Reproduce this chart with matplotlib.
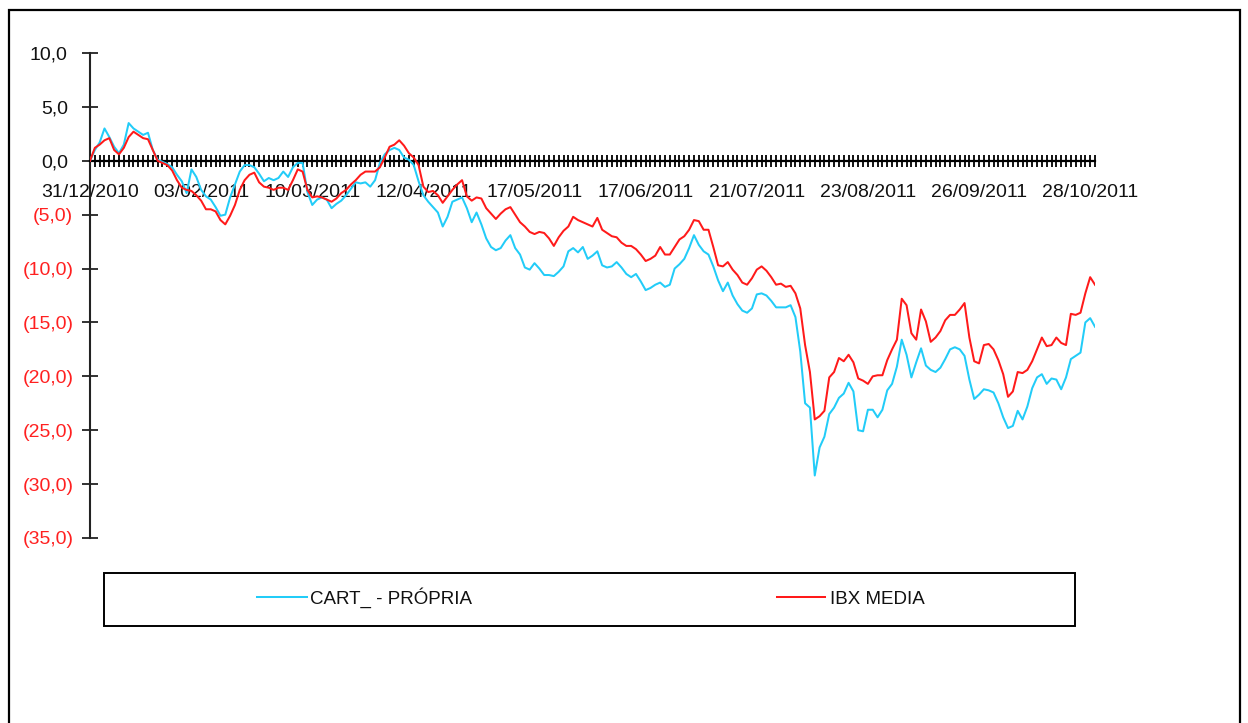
import matplotlib
matplotlib.use("Agg")
import matplotlib.pyplot as plt
from matplotlib.patches import Rectangle
from matplotlib.lines import Line2D
from matplotlib.transforms import ScaledTranslation

# ---------------- data ----------------
cart_propria = [
    0.0, 1.0, 1.7, 3.0, 2.2, 1.3, 0.7, 1.5, 3.5, 3.0,
    2.7, 2.4, 2.6, 1.0, 0.1, -0.1, -0.3, -0.6, -1.3, -1.9,
    -3.0, -0.8, -1.5, -2.7, -3.3, -3.6, -4.3, -5.1, -5.0, -3.4,
    -2.2, -1.0, -0.4, -0.4, -0.6, -1.2, -1.9, -1.6, -1.8, -1.6,
    -1.0, -1.5, -0.6, -0.2, -0.2, -2.9, -4.1, -3.6, -3.4, -3.6,
    -4.4, -4.0, -3.7, -3.2, -2.6, -2.0, -2.1, -2.0, -2.4, -1.8,
    -0.2, 0.6, 1.0, 1.2, 1.0, 0.3, 0.1, -0.4, -1.9, -3.2,
    -3.8, -4.3, -4.8, -6.1, -5.2, -3.8, -3.6, -3.4, -4.4, -5.7,
    -4.8, -5.9, -7.2, -8.0, -8.3, -8.1, -7.4, -6.9, -8.1, -8.7,
    -9.9, -10.1, -9.5, -10.0, -10.6, -10.6, -10.7, -10.3, -9.8, -8.4,
    -8.1, -8.5, -8.0, -9.1, -8.8, -8.4, -9.7, -9.9, -9.8, -9.4,
    -9.9, -10.5, -10.8, -10.5, -11.2, -12.0, -11.8, -11.5, -11.3, -11.7,
    -11.5, -10.0, -9.6, -9.1, -8.1, -6.9, -7.8, -8.4, -8.7, -9.8,
    -11.1, -12.1, -11.3, -12.5, -13.3, -13.9, -14.1, -13.7, -12.4, -12.3,
    -12.5, -13.0, -13.6, -13.6, -13.6, -13.4, -14.5, -17.7, -22.5, -22.9,
    -29.2, -26.6, -25.6, -23.5, -22.9, -22.0, -21.6, -20.6, -21.4, -25.0,
    -25.1, -23.1, -23.1, -23.8, -23.1, -21.3, -20.7, -19.1, -16.6, -18.0,
    -20.1, -18.7, -17.4, -19.0, -19.4, -19.6, -19.2, -18.4, -17.5, -17.3,
    -17.5, -18.1, -20.3, -22.1, -21.7, -21.2, -21.3, -21.5, -22.5, -23.8,
    -24.8, -24.6, -23.2, -24.0, -22.8, -21.1, -20.1, -19.8, -20.7, -20.2,
    -20.3, -21.2, -20.1, -18.4, -18.1, -17.8, -15.0, -14.6, -15.4,
]

ibx_media = [
    0.0, 1.2, 1.5, 1.9, 2.1, 1.0, 0.6, 1.2, 2.2, 2.7,
    2.4, 2.1, 2.0, 1.0, 0.0, -0.2, -0.4, -0.9, -1.8, -2.5,
    -2.7, -2.8, -3.2, -3.7, -4.5, -4.5, -4.7, -5.5, -5.9, -5.1,
    -4.1, -2.7, -1.8, -1.3, -1.1, -2.0, -2.4, -2.5, -2.7, -2.5,
    -2.5, -2.7, -1.8, -0.8, -1.0, -2.7, -3.4, -3.3, -3.4, -3.6,
    -3.8, -3.5, -3.0, -2.7, -2.2, -1.8, -1.3, -1.0, -1.0, -1.0,
    -0.6, 0.3, 1.3, 1.5, 1.9, 1.4, 0.7, 0.3, -0.4, -2.4,
    -2.9, -2.8, -3.2, -3.9, -3.3, -2.7, -2.2, -1.8, -3.3, -3.7,
    -3.4, -3.5, -4.4, -4.9, -5.4, -4.9, -4.5, -4.3, -5.0, -5.7,
    -6.1, -6.6, -6.8, -6.6, -6.7, -7.2, -7.9, -7.1, -6.5, -6.1,
    -5.2, -5.5, -5.7, -5.9, -6.1, -5.3, -6.4, -6.7, -7.0, -7.1,
    -7.6, -7.9, -7.9, -8.2, -8.7, -9.3, -9.1, -8.8, -8.0, -8.7,
    -8.7, -8.0, -7.3, -7.0, -6.4, -5.5, -5.6, -6.4, -6.4, -8.0,
    -9.7, -9.8, -9.4, -10.1, -10.6, -11.3, -11.5, -10.9, -10.1, -9.8,
    -10.2, -10.8, -11.5, -11.4, -11.7, -11.6, -12.3, -13.7, -17.1, -19.6,
    -24.0, -23.7, -23.2, -20.1, -19.6, -18.3, -18.6, -18.0, -18.7, -20.2,
    -20.4, -20.7, -20.0, -19.9, -19.9, -18.5, -17.5, -16.6, -12.8, -13.4,
    -16.0, -16.6, -13.8, -14.9, -16.8, -16.4, -15.8, -14.8, -14.3, -14.3,
    -13.8, -13.2, -16.4, -18.6, -18.8, -17.1, -17.0, -17.5, -18.5, -19.8,
    -21.9, -21.4, -19.6, -19.7, -19.4, -18.6, -17.5, -16.4, -17.2, -17.1,
    -16.4, -16.9, -17.1, -14.2, -14.3, -14.1, -12.3, -10.8, -11.5,
]

date_labels = ["31/12/2010", "03/02/2011", "10/03/2011", "12/04/2011", "17/05/2011",
               "17/06/2011", "21/07/2011", "23/08/2011", "26/09/2011", "28/10/2011"]
label_step = 23
y_ticks = [10, 5, 0, -5, -10, -15, -20, -25, -30, -35]
series_names = ["CART_ - PRÓPRIA", "IBX MEDIA"]
series_colors = ["#22CCF8", "#FF1A1A"]

# ---------------- figure ----------------
plt.rcParams['font.family'] = ['Liberation Sans', 'DejaVu Sans']
W, H = 1248, 723
fig = plt.figure(figsize=(W / 100, H / 100), dpi=100)
fig.patch.set_facecolor("white")

def fx(px):
    return px / W

def fy(py):
    return 1 - py / H

ax = fig.add_axes([fx(90), fy(538), fx(1095) - fx(90), fy(53) - fy(538)])
n = len(cart_propria)
xs = list(range(n))

ax.plot(xs, cart_propria, color=series_colors[0], lw=1.45, zorder=3)
ax.plot(xs, ibx_media, color=series_colors[1], lw=1.45, zorder=3)

ax.set_xlim(0, n - 1)
ax.set_ylim(-35, 10)

for s in ["top", "right"]:
    ax.spines[s].set_visible(False)
ax.spines["left"].set_position(("data", 0))
ax.spines["bottom"].set_position(("data", 0))
ax.spines["left"].set_linewidth(1.5)
ax.spines["bottom"].set_linewidth(1.6)
ax.spines["left"].set_color("#222222")
ax.spines["bottom"].set_color("black")

# x ticks: one per category, labels every 23
ax.set_xticks(xs)
xlabels = [""] * n
for k, lab in enumerate(date_labels):
    if k * label_step < n:
        xlabels[k * label_step] = lab
ax.set_xticklabels(xlabels, fontsize=14, color="#111111")
ax.tick_params(axis="x", direction="inout", length=9, width=1.3, pad=12, color="black")

# y ticks
ax.set_yticks(y_ticks)
ylabels = []
for v in y_ticks:
    if v >= 0:
        ylabels.append(f"{v:.1f}".replace(".", ","))
    else:
        ylabels.append(f"({abs(v):.1f})".replace(".", ","))
ax.set_yticklabels(ylabels, fontsize=14)
ax.tick_params(axis="y", direction="inout", length=11, width=1.3, pad=6.5, color="#222222")
for v, lab in zip(y_ticks, ax.get_yticklabels()):
    if v < 0:
        lab.set_color("#FF2020")
    else:
        lab.set_color("#111111")
        lab.set_transform(lab.get_transform() + ScaledTranslation(-5.5 / 100, 0, fig.dpi_scale_trans))

# outer frame
fig.patches.append(Rectangle((fx(8.5), -0.02), fx(1240) - fx(8.5), fy(10) + 0.02,
                             transform=fig.transFigure, fill=False, lw=1.6,
                             edgecolor="black", zorder=0))

# legend box
fig.patches.append(Rectangle((fx(104), fy(626)), fx(1075) - fx(104), fy(573) - fy(626),
                             transform=fig.transFigure, fill=False, lw=1.4,
                             edgecolor="black"))
leg_line_x = [(257, 307), (777, 825)]
leg_text_x = [310, 830]
for (x0, x1), tx, name, col in zip(leg_line_x, leg_text_x, series_names, series_colors):
    fig.lines.append(Line2D([fx(x0), fx(x1)], [fy(597), fy(597)], transform=fig.transFigure,
                            color=col, lw=1.45))
    fig.text(fx(tx), fy(604), name, fontsize=13.5, color="#111111", va="baseline", ha="left")

fig.savefig("out.png", dpi=100)
